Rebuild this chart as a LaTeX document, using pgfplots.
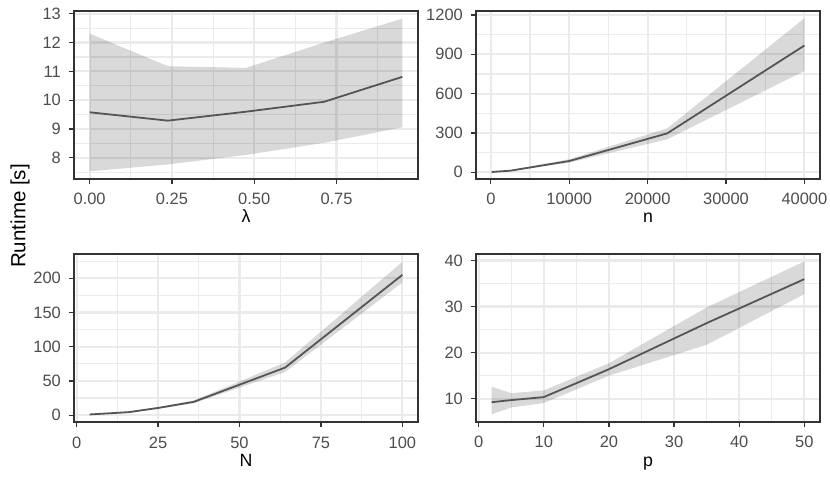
\documentclass[border=0pt]{standalone}
\usepackage{fontspec}
\setmainfont{Liberation Sans}
\usepackage{pgfplots}
\usepackage{pgfplotstable}
\pgfplotsset{compat=1.18}
\usepgfplotslibrary{fillbetween}
\definecolor{tickgray}{RGB}{77,77,77}
\definecolor{bordergray}{RGB}{51,51,51}
\definecolor{gridgray}{RGB}{235,235,235}
\definecolor{linegray}{RGB}{85,85,85}

\pgfplotstableread{
x mean lo up
0 9.58 7.53 12.31
0.2375 9.29 7.77 11.18
0.475 9.60 8.10 11.12
0.7125 9.945 8.52 12.00
0.95 10.81 9.06 12.83
}\tabLambda

\pgfplotstableread{
x mean lo up
100 2.5 1 4
2500 12.5 10 16
10000 86 74 100
22500 297 252 335
40000 967 773 1175
}\tabn

\pgfplotstableread{
x mean lo up
4 1.0 0.6 1.5
16 4.4 3.6 5.2
25 10.5 9.3 11.7
36 19.5 17.5 21.5
64 69.5 63 77
100 205 194 224
}\tabN

\pgfplotstableread{
x mean lo up
2 9.25 6.6 12.6
5 9.7 8.1 11.2
10 10.35 9.05 11.8
20 16.4 15.0 17.7
35 26.4 21.7 29.8
50 35.95 32.7 39.8
}\tabp

\pgfplotsset{
  panel/.style={
    scale only axis, width=344bp, height=168bp, anchor=south west,
    axis line style={bordergray, line width=1.2bp},
    tick style={bordergray, line width=1.2bp},
    tick align=outside, major tick length=5bp, minor tick length=0pt,
    xtick pos=left, ytick pos=left,
    scaled ticks=false,
    grid=both,
    major grid style={gridgray, line width=2.2bp},
    minor grid style={gridgray, line width=1.1bp},
    ticklabel style={font=\fontsize{16.5}{19}\selectfont, text=tickgray},
    /pgf/number format/assume math mode=true,
    xticklabel style={anchor=base, inner sep=0pt, yshift=-21bp},
    yticklabel style={anchor=east, inner sep=0pt, xshift=-8bp},
    every axis x label/.style={at={(axis description cs:0.5,0)}, anchor=base, yshift=-44bp, font=\fontsize{17.8}{21}\selectfont},
  },
  band/.style={fill=black, fill opacity=0.15, draw=none},
  mline/.style={linegray, line width=1.8bp, no marks},
}

\begin{document}
\begin{tikzpicture}

% lambda
\begin{axis}[panel, at={(74bp,318bp)},
  xmin=-0.0475, xmax=0.9975, ymin=7.265, ymax=13.095,
  xtick={0,0.25,0.5,0.75}, xticklabels={0.00,0.25,0.50,0.75},
  minor xtick={0.125,0.375,0.625,0.875},
  ytick={8,9,10,11,12,13}, yticklabels={8,9,10,11,12,13},
  minor ytick={7.5,8.5,9.5,10.5,11.5,12.5},
  xlabel={λ}]
  \addplot[draw=none, name path=up, forget plot] table[x=x,y=up]{\tabLambda};
  \addplot[draw=none, name path=lo, forget plot] table[x=x,y=lo]{\tabLambda};
  \addplot[band] fill between[of=up and lo];
  \addplot[mline] table[x=x,y=mean]{\tabLambda};
\end{axis}

% n
\begin{axis}[panel, at={(476bp,318bp)},
  xmin=-1895, xmax=41995, ymin=-51, ymax=1230.5,
  xtick={0,10000,20000,30000,40000}, xticklabels={0,10000,20000,30000,40000},
  minor xtick={5000,15000,25000,35000},
  ytick={0,300,600,900,1200}, yticklabels={0,300,600,900,1200},
  minor ytick={150,450,750,1050},
  xlabel={n}]
  \addplot[draw=none, name path=up, forget plot] table[x=x,y=up]{\tabn};
  \addplot[draw=none, name path=lo, forget plot] table[x=x,y=lo]{\tabn};
  \addplot[band] fill between[of=up and lo];
  \addplot[mline] table[x=x,y=mean]{\tabn};
\end{axis}

% N
\begin{axis}[panel, at={(74bp,75bp)},
  xmin=-0.8, xmax=104.8, ymin=-10, ymax=235.5,
  xtick={0,25,50,75,100}, xticklabels={0,25,50,75,100},
  minor xtick={12.5,37.5,62.5,87.5},
  ytick={0,50,100,150,200}, yticklabels={0,50,100,150,200},
  minor ytick={25,75,125,175,225},
  xlabel={N}]
  \addplot[draw=none, name path=up, forget plot] table[x=x,y=up]{\tabN};
  \addplot[draw=none, name path=lo, forget plot] table[x=x,y=lo]{\tabN};
  \addplot[band] fill between[of=up and lo];
  \addplot[mline] table[x=x,y=mean]{\tabN};
\end{axis}

% p
\begin{axis}[panel, at={(476bp,75bp)},
  xmin=-0.4, xmax=52.4, ymin=4.95, ymax=41.4,
  xtick={0,10,20,30,40,50}, xticklabels={0,10,20,30,40,50},
  minor xtick={5,15,25,35,45},
  ytick={10,20,30,40}, yticklabels={10,20,30,40},
  minor ytick={15,25,35},
  xlabel={p}]
  \addplot[draw=none, name path=up, forget plot] table[x=x,y=up]{\tabp};
  \addplot[draw=none, name path=lo, forget plot] table[x=x,y=lo]{\tabp};
  \addplot[band] fill between[of=up and lo];
  \addplot[mline] table[x=x,y=mean]{\tabp};
\end{axis}

\node[rotate=90, anchor=center, font=\fontsize{20.6}{24}\selectfont] at (20bp,281bp) {Runtime [s]};
\pgfresetboundingbox
\useasboundingbox (0,0) rectangle (830bp,497bp);
\end{tikzpicture}
\end{document}
